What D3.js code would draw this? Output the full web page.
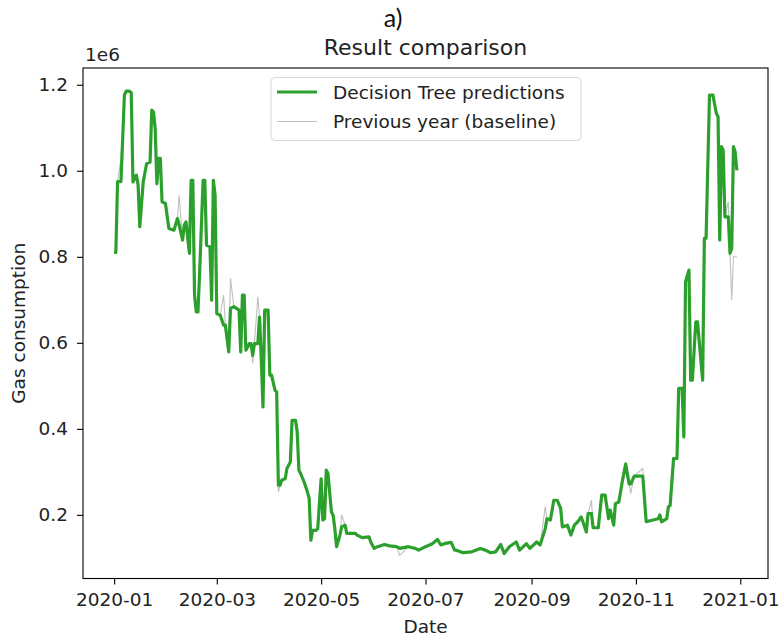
<!DOCTYPE html>
<html>
<head>
<meta charset="utf-8">
<script src="https://cdn.jsdelivr.net/npm/d3@7"></script>
<style>
  body { margin: 0; background: #fff; }
  svg { display: block; font-family: "DejaVu Sans", sans-serif; }
</style>
</head>
<body>
<div id="chart"></div>
<script>

// day offsets from 2020-01-01
var days = [0,1,2,4,6,7,9,10,11,13,
  14,15,17,19,21,22,23,24,25,26,
  27,28,30,32,35,37,38,40,41,42,
  44,45,46,47,48,49,50,52,53,54,
  56,57,58,59,60,62,64,65,67,68,
  70,73,74,75,76,77,79,80,81,82,
  84,85,86,87,88,90,91,92,94,95,
  96,97,98,100,101,103,104,106,107,108,
  109,111,113,114,115,116,118,119,121,122,
  123,124,125,127,128,129,130,132,133,135,
  136,138,141,142,145,149,150,152,154,158,
  161,165,167,172,176,178,182,186,189,191,
  193,197,199,200,204,209,214,217,220,223,
  226,228,231,235,237,241,243,247,249,252,
  253,255,257,259,261,262,265,267,269,271,
  273,274,276,277,279,280,283,285,287,289,
  290,292,293,295,297,299,301,302,304,309,
  311,315,318,319,320,323,324,325,327,329,
  330,332,333,334,336,337,338,340,341,344,
  345,346,348,350,352,353,354,355,356,357,
  359,360,361,362,363,364];

// gas consumption, units of 1e6
var predicted = [0.81,0.81,0.975,0.975,1.176,1.185,1.185,1.182,0.974,0.99,
  0.967,0.87,0.974,1.017,1.02,1.141,1.137,1.098,0.97,1.029,
  1.029,0.928,0.924,0.866,0.862,0.889,0.874,0.839,0.874,0.881,
  0.808,0.978,0.978,0.711,0.672,0.672,0.765,0.978,0.978,0.827,
  0.823,0.699,0.978,0.943,0.668,0.664,0.641,0.641,0.579,0.68,
  0.684,0.676,0.579,0.711,0.711,0.583,0.598,0.598,0.571,0.598,
  0.598,0.66,0.563,0.451,0.676,0.676,0.525,0.525,0.49,0.486,
  0.269,0.269,0.281,0.284,0.308,0.323,0.42,0.42,0.393,0.304,
  0.296,0.277,0.253,0.238,0.141,0.164,0.164,0.168,0.284,0.188,
  0.191,0.304,0.296,0.207,0.199,0.168,0.126,0.153,0.172,0.176,
  0.157,0.157,0.157,0.153,0.147,0.149,0.137,0.122,0.126,0.131,
  0.128,0.126,0.122,0.126,0.122,0.118,0.126,0.133,0.143,0.13,
  0.133,0.136,0.118,0.118,0.112,0.114,0.122,0.118,0.112,0.114,
  0.131,0.11,0.126,0.137,0.118,0.133,0.122,0.137,0.13,0.168,
  0.191,0.188,0.234,0.234,0.215,0.172,0.176,0.153,0.176,0.184,
  0.195,0.184,0.16,0.203,0.203,0.17,0.17,0.246,0.246,0.191,
  0.211,0.176,0.226,0.23,0.277,0.318,0.272,0.272,0.29,0.29,
  0.184,0.188,0.191,0.2,0.184,0.191,0.219,0.222,0.331,0.331,
  0.494,0.494,0.381,0.742,0.769,0.513,0.513,0.649,0.649,0.513,
  0.843,0.843,1.176,1.176,1.133,1.126,0.839,1.056,1.049,0.893,
  0.893,0.808,0.82,1.056,1.044,1.001];

var baseline = [0.81,0.81,0.975,1.03,1.176,1.18,1.185,1.17,0.974,0.99,
  0.967,0.87,0.974,1.017,1.02,1.141,1.137,1.098,0.97,1.029,
  1.029,0.928,0.924,0.866,0.862,0.889,0.943,0.839,0.874,0.881,
  0.808,0.978,0.978,0.711,0.672,0.672,0.765,0.978,0.978,0.827,
  0.823,0.699,0.978,0.943,0.668,0.664,0.711,0.641,0.579,0.75,
  0.684,0.676,0.579,0.711,0.711,0.583,0.598,0.598,0.552,0.598,
  0.707,0.66,0.563,0.451,0.676,0.676,0.525,0.525,0.49,0.486,
  0.253,0.269,0.281,0.284,0.308,0.323,0.42,0.42,0.393,0.304,
  0.296,0.277,0.253,0.238,0.141,0.164,0.164,0.168,0.284,0.188,
  0.191,0.304,0.296,0.207,0.199,0.168,0.126,0.153,0.2,0.176,
  0.157,0.157,0.157,0.153,0.147,0.149,0.137,0.122,0.126,0.131,
  0.128,0.126,0.106,0.126,0.122,0.118,0.126,0.133,0.143,0.13,
  0.133,0.136,0.118,0.118,0.112,0.114,0.122,0.118,0.112,0.114,
  0.131,0.11,0.126,0.137,0.118,0.133,0.122,0.137,0.13,0.219,
  0.191,0.188,0.234,0.234,0.215,0.172,0.176,0.153,0.176,0.184,
  0.195,0.184,0.16,0.203,0.234,0.17,0.17,0.246,0.246,0.191,
  0.211,0.176,0.226,0.23,0.277,0.323,0.272,0.25,0.29,0.308,
  0.184,0.188,0.191,0.2,0.184,0.191,0.219,0.222,0.331,0.331,
  0.494,0.494,0.381,0.746,0.769,0.513,0.513,0.649,0.649,0.513,
  0.843,0.843,1.176,1.176,1.133,1.126,0.839,1.056,1.049,0.893,
  0.928,0.804,0.70,0.80,0.80,0.80];

var yTicks = [0.2, 0.4, 0.6, 0.8, 1.0, 1.2];
var xTickLabels = ['2020-01','2020-03','2020-05','2020-07','2020-09','2020-11','2021-01'];
var seriesNames = ['Decision Tree predictions', 'Previous year (baseline)'];

var width = 781;
var height = 636;
var margin = {top: 68, right: 13, bottom: 57.5, left: 83};
var fs = 18.5;

var start = new Date(2020, 0, 1);
var parseMonth = d3.timeParse('%Y-%m');
var dates = days.map(d => d3.timeDay.offset(start, d));

var rows = days.map((d, i) => ({date: dates[i], pred: predicted[i], base: baseline[i]}));

var svg = d3.select('#chart').append('svg')
    .attr('width', width)
    .attr('height', height);

// matplotlib style 5% margins
var xExt = d3.extent(dates);
var xPad = (xExt[1] - xExt[0]) * 0.05;
var x = d3.scaleTime()
    .domain([new Date(+xExt[0] - xPad), new Date(+xExt[1] + xPad)])
    .range([margin.left, width - margin.right]);

var yExt = d3.extent(predicted.concat(baseline));
var yPad = (yExt[1] - yExt[0]) * 0.05;
var y = d3.scaleLinear()
    .domain([yExt[0] - yPad, yExt[1] + yPad])
    .range([height - margin.bottom, margin.top]);

// baseline underneath, predictions on top
svg.append('path')
    .datum(rows)
    .attr('fill', 'none')
    .attr('stroke', '#b4b4b4')
    .attr('stroke-opacity', 0.85)
    .attr('stroke-width', 1.1)
    .attr('d', d3.line().x(d => x(d.date)).y(d => y(d.base)));

svg.append('path')
    .datum(rows)
    .attr('fill', 'none')
    .attr('stroke', '#2ca02c')
    .attr('stroke-width', 3.2)
    .attr('stroke-linejoin', 'round')
    .attr('d', d3.line().x(d => x(d.date)).y(d => y(d.pred)));

// frame
svg.append('rect')
    .attr('x', margin.left)
    .attr('y', margin.top)
    .attr('width', width - margin.left - margin.right)
    .attr('height', height - margin.top - margin.bottom)
    .attr('fill', 'none')
    .attr('stroke', '#000')
    .attr('stroke-width', 1.1);

var xAxis = svg.append('g')
    .attr('transform', `translate(0,${height - margin.bottom})`)
    .call(d3.axisBottom(x)
        .tickValues(xTickLabels.map(parseMonth))
        .tickFormat(d3.timeFormat('%Y-%m'))
        .tickSize(6).tickSizeOuter(0).tickPadding(8));

var yAxis = svg.append('g')
    .attr('transform', `translate(${margin.left},0)`)
    .call(d3.axisLeft(y)
        .tickValues(yTicks)
        .tickFormat(d3.format('.1f'))
        .tickSize(6).tickSizeOuter(0).tickPadding(9));

[xAxis, yAxis].forEach(g => {
    g.select('.domain').remove();
    g.selectAll('.tick line').attr('stroke', '#000').attr('stroke-width', 1.1);
    g.selectAll('.tick text')
        .attr('fill', '#222')
        .style('font-family', '"DejaVu Sans", sans-serif')
        .style('font-size', fs + 'px');
});

// offset text
svg.append('text')
    .attr('x', margin.left + 2)
    .attr('y', 61)
    .attr('fill', '#222')
    .style('font-size', fs + 'px')
    .text('1e6');

svg.append('text')
    .attr('x', (margin.left + width - margin.right) / 2)
    .attr('y', 55)
    .attr('text-anchor', 'middle')
    .attr('fill', '#222')
    .style('font-size', '22px')
    .text('Result comparison');

svg.append('text')
    .attr('x', 393)
    .attr('y', 27)
    .attr('text-anchor', 'middle')
    .attr('fill', '#111')
    .style('font-family', 'Lato, "Open Sans", sans-serif')
    .style('font-size', '25px')
    .text('a)');

svg.append('text')
    .attr('x', (margin.left + width - margin.right) / 2)
    .attr('y', 633)
    .attr('text-anchor', 'middle')
    .attr('fill', '#222')
    .style('font-size', fs + 'px')
    .text('Date');

svg.append('text')
    .attr('transform', `translate(25,${(margin.top + height - margin.bottom) / 2})rotate(-90)`)
    .attr('text-anchor', 'middle')
    .attr('fill', '#222')
    .style('font-size', fs + 'px')
    .text('Gas consumption');

// legend
var legend = svg.append('g').attr('transform', 'translate(271,77.5)');
legend.append('rect')
    .attr('width', 310)
    .attr('height', 63)
    .attr('rx', 4)
    .attr('fill', '#fff')
    .attr('fill-opacity', 0.8)
    .attr('stroke', '#d6d6d6')
    .attr('stroke-width', 1);

var legendStyles = [
    {color: '#2ca02c', w: 3.2, opacity: 1},
    {color: '#b4b4b4', w: 1.1, opacity: 0.85}
];
seriesNames.forEach((name, i) => {
    var ly = 14.5 + i * 29.5;
    legend.append('line')
        .attr('x1', 6).attr('x2', 46)
        .attr('y1', ly).attr('y2', ly)
        .attr('stroke', legendStyles[i].color)
        .attr('stroke-opacity', legendStyles[i].opacity)
        .attr('stroke-width', legendStyles[i].w);
    legend.append('text')
        .attr('x', 62)
        .attr('y', ly + 6.5)
        .attr('fill', '#222')
        .style('font-size', fs + 'px')
        .text(name);
});

</script>
</body>
</html>
